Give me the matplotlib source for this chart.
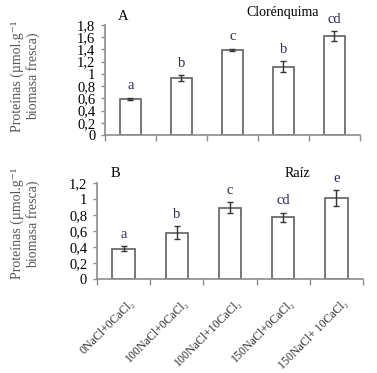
import matplotlib
matplotlib.use("Agg")
import matplotlib.pyplot as plt
import numpy as np

plt.rcParams["font.family"] = ["Liberation Serif", "DejaVu Serif"]

# treatments (x tick labels)
treatments = ["0NaCl+0CaCl₂", "100NaCl+0CaCl₂", "100NaCl+10CaCl₂",
              "150NaCl+0CaCl₂", "150NaCl+ 10CaCl₂"]

# A - clorenquima
chl_mean = [0.59, 0.93, 1.39, 1.12, 1.62]
chl_err = [0.02, 0.05, 0.02, 0.09, 0.08]
chl_letters = ["a", "b", "c", "b", "cd"]

# B - raiz
root_mean = [0.38, 0.58, 0.89, 0.77, 1.01]
root_err = [0.03, 0.08, 0.07, 0.06, 0.10]
root_letters = ["a", "b", "c", "cd", "e"]

axis_gray = "#8c8c8c"
letter_col = "#30285e"
ylab = "Proteínas (µmol.g⁻¹\nbiomasa fresca)"


def comma(v):
    return ("%g" % round(v, 2)).replace(".", ",")


def panel(ax, mean, err, letters, ymax, show_x):
    x = np.arange(len(mean))
    ax.bar(x, mean, width=0.42, color="white", edgecolor="#606060", linewidth=1.2, zorder=2)
    ax.errorbar(x, mean, yerr=err, fmt="none", ecolor="#333333", elinewidth=1,
                capsize=2.5, capthick=1, zorder=3)
    for xi, m, e, l in zip(x, mean, err, letters):
        ax.annotate(l, (xi, m + e), xytext=(0, 4), textcoords="offset points",
                    ha="center", va="bottom", fontsize=10.5, color=letter_col)
    ax.set_xlim(-0.5, len(mean) - 0.5)
    ax.set_ylim(0, ymax)
    yt = np.arange(0, ymax + 0.001, 0.2)
    ax.set_yticks(yt)
    ax.set_yticklabels([comma(v) for v in yt], fontsize=10.5)
    ax.set_xticks(np.arange(len(mean) + 1) - 0.5)
    ax.set_xticklabels([])
    ax.tick_params(axis="x", length=4, color=axis_gray, width=1)
    ax.tick_params(axis="y", length=3, color=axis_gray, width=1, pad=4)
    for s in ["top", "right"]:
        ax.spines[s].set_visible(False)
    for s in ["left", "bottom"]:
        ax.spines[s].set_color(axis_gray)
        ax.spines[s].set_linewidth(1.2)
    if show_x:
        for xi, t in zip(x, treatments):
            ax.annotate(t, (xi, 0), xytext=(4, -13), textcoords="offset points",
                        rotation=45, ha="right", va="top", rotation_mode="anchor",
                        fontsize=8.6, color="#333333")


fig = plt.figure(figsize=(3.77, 3.73), dpi=100)

ax1 = fig.add_axes([0.2785, 0.638, 0.676, 0.295])
panel(ax1, chl_mean, chl_err, chl_letters, 1.8, False)

ax2 = fig.add_axes([0.257, 0.252, 0.706, 0.257])
panel(ax2, root_mean, root_err, root_letters, 1.2, True)

fig.text(0.326, 0.957, "A", fontsize=10.5, ha="center", va="center")
fig.text(0.75, 0.967, "Clorénquima", fontsize=10, ha="center", va="center")
fig.text(0.305, 0.534, "B", fontsize=10.5, ha="center", va="center")
fig.text(0.79, 0.536, "Raíz", fontsize=10, ha="center", va="center")

fig.text(0.068, 0.795, ylab, rotation=90, ha="center", va="center",
         fontsize=10, color="#555555", multialignment="center")
fig.text(0.068, 0.40, ylab, rotation=90, ha="center", va="center",
         fontsize=10, color="#555555", multialignment="center")

fig.savefig("out.png", dpi=100)
